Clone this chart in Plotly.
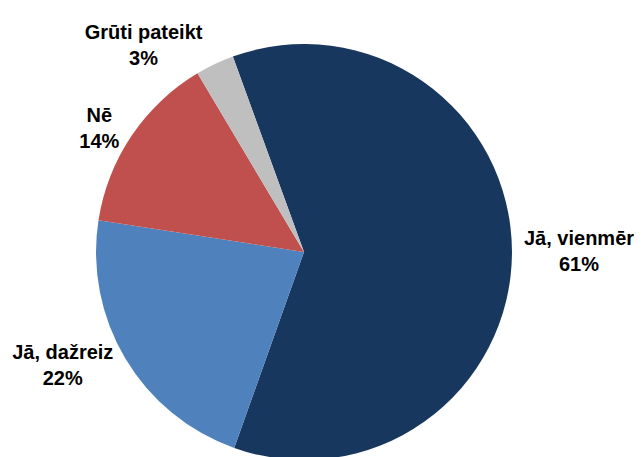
import plotly.graph_objects as go

# survey answers (Latvian), share of respondents in %
labels = ["Jā, vienmēr", "Jā, dažreiz", "Nē", "Grūti pateikt"]
values = [61, 22, 14, 3]
colors = ["#17375E", "#4F81BD", "#C0504D", "#BFBFBF"]

fig = go.Figure(data=[go.Pie(
    labels=labels,
    values=values,
    sort=False,
    direction="clockwise",
    rotation=-20,
    marker=dict(colors=colors, line=dict(width=0)),
    texttemplate="<b>%{label}</b><br><b>%{percent:.0%}</b>",
    textposition="outside",
    outsidetextfont=dict(family="Liberation Sans, Arial, sans-serif", size=20, color="#000000"),
    domain=dict(x=[0.1371, 0.7850], y=[0.0109, 0.9212]),
    showlegend=False,
    hoverinfo="label+percent",
)])

fig.update_layout(
    width=642,
    height=457,
    margin=dict(l=0, r=0, t=0, b=0),
    paper_bgcolor="white",
    plot_bgcolor="white",
    font=dict(family="Liberation Sans, Arial, sans-serif"),
)

fig.write_html("out.html")
